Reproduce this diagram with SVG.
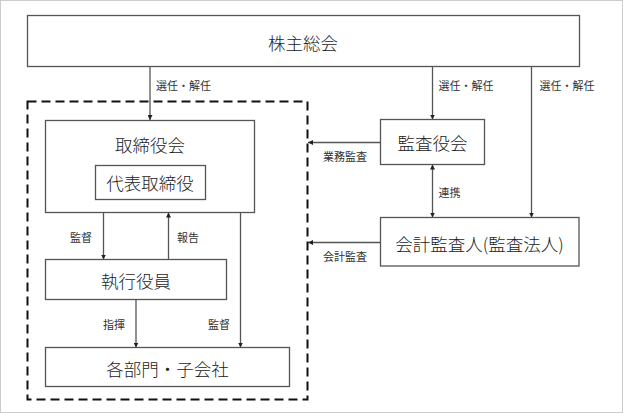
<svg xmlns="http://www.w3.org/2000/svg" width="623" height="413" viewBox="0 0 623 413">
<style>
.box{fill:#fff;stroke:#555;stroke-width:1.3}
.t{font-family:"Noto Sans CJK JP","Noto Sans CJK SC",sans-serif;font-size:17.5px;font-weight:300;fill:#222;text-anchor:middle;dominant-baseline:central}
.s{font-family:"Noto Sans CJK JP","Noto Sans CJK SC",sans-serif;font-size:11px;font-weight:400;fill:#333;dominant-baseline:central}
.m{text-anchor:middle}
.ln{fill:none;stroke:#555;stroke-width:1.3}
</style>
<defs>
<marker id="ah" viewBox="0 0 10 10" refX="10" refY="5" markerWidth="5" markerHeight="5" orient="auto" markerUnits="userSpaceOnUse">
<path d="M0,0 L10,5 L0,10 z" fill="#222"/>
</marker>
<marker id="as" viewBox="0 0 10 10" refX="0" refY="5" markerWidth="5" markerHeight="5" orient="auto" markerUnits="userSpaceOnUse">
<path d="M10,0 L0,5 L10,10 z" fill="#222"/>
</marker>
</defs>
<rect x="0.5" y="0.5" width="622" height="412" fill="#fff" stroke="#999" stroke-width="1" stroke-dasharray="1 1"/>
<rect id="group-boundary" x="27.5" y="101.5" width="280" height="298" fill="none" stroke="#111" stroke-width="2" stroke-dasharray="9 5"/>
<g id="connectors">
<line class="ln" x1="150" y1="66.5" x2="150" y2="120" marker-end="url(#ah)"/>
<line class="ln" x1="432.5" y1="66.5" x2="432.5" y2="119.5" marker-end="url(#ah)"/>
<line class="ln" x1="531.5" y1="66.5" x2="531.5" y2="217.5" marker-end="url(#ah)"/>
<line class="ln" x1="103.5" y1="212.5" x2="103.5" y2="259.5" marker-end="url(#ah)"/>
<line class="ln" x1="168.5" y1="259.5" x2="168.5" y2="212.5" marker-end="url(#ah)"/>
<line class="ln" x1="240.5" y1="212.5" x2="240.5" y2="347.5" marker-end="url(#ah)"/>
<line class="ln" x1="136" y1="299.5" x2="136" y2="347.5" marker-end="url(#ah)"/>
<line class="ln" x1="380.5" y1="142.5" x2="308" y2="142.5" marker-end="url(#ah)"/>
<line class="ln" x1="380.5" y1="242.5" x2="308" y2="242.5" marker-end="url(#ah)"/>
<line class="ln" x1="432.5" y1="164.5" x2="432.5" y2="217.5" marker-start="url(#as)" marker-end="url(#ah)"/>
<text class="s" x="156" y="85">選任・解任</text>
<text class="s" x="438.5" y="85">選任・解任</text>
<text class="s" x="539.5" y="85">選任・解任</text>
<text class="s m" x="81" y="237">監督</text>
<text class="s m" x="188" y="237">報告</text>
<text class="s m" x="114" y="324">指揮</text>
<text class="s m" x="219" y="324">監督</text>
<text class="s m" x="345" y="155.5">業務監査</text>
<text class="s m" x="345" y="255.7">会計監査</text>
<text class="s m" x="449.5" y="192.3">連携</text>
</g>
<g id="shareholders">
<rect class="box" x="27.5" y="15.5" width="552" height="51"/>
<text class="t" x="303" y="42.5">株主総会</text>
</g>
<g id="board">
<rect class="box" x="45.5" y="120.5" width="209" height="92"/>
<text class="t" x="150" y="144">取締役会</text>
</g>
<g id="representative">
<rect class="box" x="95.5" y="165.5" width="110" height="34"/>
<text class="t" x="150" y="182.5">代表取締役</text>
</g>
<g id="executives">
<rect class="box" x="45.5" y="259.5" width="181" height="40"/>
<text class="t" x="136" y="280">執行役員</text>
</g>
<g id="departments">
<rect class="box" x="45.5" y="347.5" width="244" height="39"/>
<text class="t" x="167.5" y="368">各部門・子会社</text>
</g>
<g id="auditors">
<rect class="box" x="380.5" y="119.5" width="104" height="45"/>
<text class="t" x="432.5" y="142.5">監査役会</text>
</g>
<g id="accounting-auditor">
<rect class="box" x="380.5" y="217.5" width="198.5" height="48.5"/>
<text class="t" x="479.5" y="243">会計監査人(監査法人)</text>
</g>
</svg>
